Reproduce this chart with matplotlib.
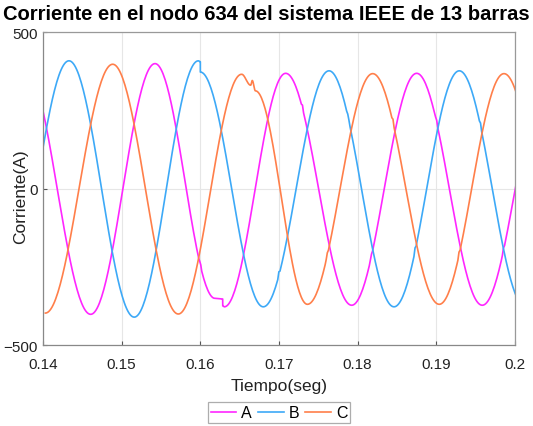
import numpy as np
import matplotlib
matplotlib.use("Agg")
import matplotlib.pyplot as plt

plt.rcParams['font.family'] = ['Liberation Sans', 'DejaVu Sans']

# Knot points (time [s], current [A]) at peaks and troughs of each phase.
# Consecutive knots are joined by half-cosine arcs; repeated times mark steps.
a_t = [0.13757, 0.14606, 0.15424, 0.16186, 0.16284, 0.16284, 0.16305,
       0.17085, 0.17924, 0.1875, 0.19584, 0.2042]
a_v = [399, -402, 399, -351, -353, -375, -378,
       368, -373, 368, -373, 368]

b_t = [0.1350, 0.1433, 0.1516, 0.15975, 0.1600, 0.1600, 0.1680,
       0.17636, 0.18462, 0.19292, 0.2013]
b_v = [-405, 408, -411, 408, 405, 372, -378,
       376, -378, 376, -378]

c_t = [0.1403, 0.14886, 0.1572, 0.16525, 0.1664, 0.1666, 0.1670, 0.17361,
       0.18191, 0.19037, 0.1986, 0.2070]
c_v = [-398, 397, -401, 365, 330, 345, 312, -370,
       367, -370, 367, -370]

# Small switching notches on the slopes (time [s], height [A])
a_notch_t = [0.1600, 0.1730, 0.1817, 0.1900, 0.1985]
a_notch_h = [14, 12, 12, 12, 12]
b_notch_t = [0.1700, 0.1788, 0.1873, 0.1956]
b_notch_h = [14, 12, 12, 12]
c_notch_t = [0.1761, 0.1845, 0.1929]
c_notch_h = [12, 12, 12]

series_names = ['A', 'B', 'C']
series_colors = ['#FF26FF', '#3DA9F7', '#FF7F4A']

x_ticks = [0.14, 0.15, 0.16, 0.17, 0.18, 0.19, 0.2]
x_tick_labels = ['0.14', '0.15', '0.16', '0.17', '0.18', '0.19', '0.2']
y_ticks = [-500, 0, 500]


def arc_curve(ts, vs, notch_t, notch_h, n=60):
    """Join knots with half-cosine arcs and add narrow notches."""
    out_t, out_v = [ts[0]], [vs[0]]
    for t0, t1, v0, v1 in zip(ts[:-1], ts[1:], vs[:-1], vs[1:]):
        if t1 <= t0:
            out_t.append(t1)
            out_v.append(v1)
            continue
        s = np.linspace(0, 1, n)[1:]
        out_t.extend(t0 + (t1 - t0) * s)
        out_v.extend((v0 + v1) / 2 + (v0 - v1) / 2 * np.cos(np.pi * s))
    t = np.array(out_t)
    v = np.array(out_v)
    for tn, hn in zip(notch_t, notch_h):
        v = v + hn * np.clip(1 - np.abs(t - tn) / 0.00012, 0, None)
    return t, v


fig = plt.figure(figsize=(5.33, 4.27), dpi=100)
ax = fig.add_axes([43 / 533, 1 - 346 / 427, 472 / 533, 313 / 427])

curves = [(a_t, a_v, a_notch_t, a_notch_h),
          (b_t, b_v, b_notch_t, b_notch_h),
          (c_t, c_v, c_notch_t, c_notch_h)]
for (ts, vs, nt, nh), name, col in zip(curves, series_names, series_colors):
    t, v = arc_curve(ts, vs, nt, nh)
    ax.plot(t, v, color=col, lw=1.2, label=name)

ax.set_xlim(0.14, 0.2)
ax.set_ylim(-500, 500)
ax.set_xticks(x_ticks)
ax.set_xticklabels(x_tick_labels)
ax.set_yticks(y_ticks)
ax.grid(True, color='#E6E6E6', lw=0.8)
ax.set_axisbelow(True)
ax.tick_params(direction='in', length=3, labelsize=11, color='#555555', labelcolor='#222222')
ax.tick_params(axis='x', pad=9)
ax.tick_params(axis='y', pad=4)
for sp in ax.spines.values():
    sp.set_color('#999999')
    sp.set_linewidth(0.9)
ax.spines['left'].set_color('#888888')
ax.spines['bottom'].set_color('#888888')

fig.text(0.5, 1 - 14 / 427, 'Corriente en el nodo 634 del sistema IEEE de 13 barras',
         fontsize=14.5, fontweight='bold', ha='center', va='center')
ax.set_xlabel('Tiempo(seg)', fontsize=12.5, color='#222222', labelpad=5)
ax.set_ylabel('Corriente(A)', fontsize=12.5, color='#222222')
ax.yaxis.set_label_coords(-15 / 472, (346 - 197) / 313)

leg = ax.legend(loc='upper center', bbox_to_anchor=(0.5, -0.182), ncol=3, fontsize=11.5,
                frameon=True, fancybox=False, handlelength=1.6, handletextpad=0.3,
                columnspacing=0.4, borderpad=0.2, borderaxespad=0)
leg.get_frame().set_edgecolor('#999999')
leg.get_frame().set_linewidth(0.9)

fig.savefig('out.png', dpi=100)
